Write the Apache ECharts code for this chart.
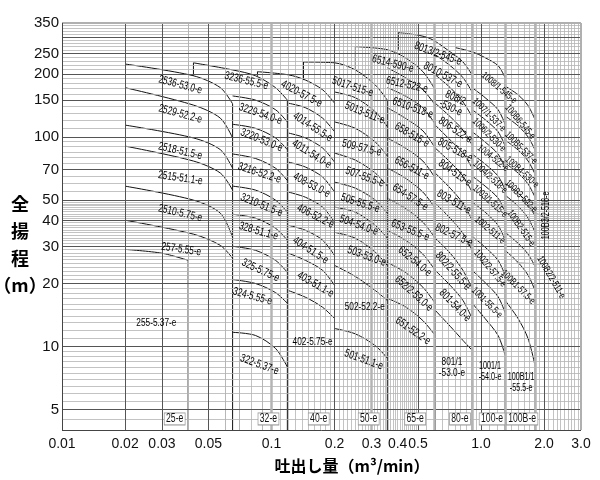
<!DOCTYPE html>
<html>
<head>
<meta charset="utf-8">
<script src="https://cdn.jsdelivr.net/npm/echarts@6/dist/echarts.min.js"></script>
<style>
  html, body { margin: 0; padding: 0; background: #fff; }
  #chart { width: 600px; height: 480px; }
</style>
</head>
<body>
<div id="chart"></div>
<script>
// 目盛り
var xTicks = [0.01, 0.02, 0.03, 0.05, 0.1, 0.2, 0.3, 0.4, 0.5, 1.0, 2.0, 3.0];
var xTickText = ['0.01', '0.02', '0.03', '0.05', '0.1', '0.2', '0.3', '0.4', '0.5', '1.0', '2.0', '3.0'];
var yTicks = [5, 10, 20, 30, 40, 50, 70, 100, 150, 200, 250, 300, 350];

// 方眼 (from, to, step)
var gridStepsX = [[0.01, 0.02, 0.001], [0.02, 0.05, 0.001], [0.05, 0.1, 0.005], [0.1, 0.2, 0.01],
  [0.2, 0.5, 0.01], [0.5, 1, 0.05], [1, 2, 0.1], [2, 3, 0.1]];
var gridStepsY = [[4, 5, 0.5], [5, 10, 0.5], [10, 20, 1], [20, 50, 1], [50, 100, 5], [100, 200, 10], [200, 350, 10]];
var majorX = [0.02, 0.03, 0.05, 0.2, 0.5, 1, 2];
var majorY = [5, 10, 20, 30, 40, 50, 70, 100, 150, 200, 250, 300];
var greyX = [0.1, 0.3, 0.6045, 0.907, 1.3033, 1.811];

// 25-e
var q25 = [0.02, 0.0424, 0.057, 0.0652];
var h25 = [
  [223, 196, 172, 144],
  [172, 142, 123, 99],
  [114, 99, 87, 71],
  [90.5, 76.8, 67.3, 55.8],
  [58.3, 50.0, 43.3, 33.2],
  [40.1, 34.4, 30.4, 26.4]
];
var q255 = [0.02, 0.03, 0.04];
var h255 = [29.1, 27.9, 25.8];

// 32-e
var top32Q = [0.0424, 0.0652, 0.0839, 0.1045, 0.119];
var top32H = [226, 209, 196, 172, 150];
var q32 = [0.0652, 0.0839, 0.1045, 0.119];
var h32 = [
  [157, 150, 135, 118],
  [115, 110, 99, 87],
  [83, 79, 71, 62],
  [58.3, 55.8, 50, 43.8],
  [42.8, 41, 36.7, 32.2],
  [30.1, 28.8, 25.8, 22.6],
  [20.9, 20, 18.1, 16.1],
  [11.7, 11.3, 9.8, 8.0]
];

// 40-e
var top40Q = [0.0857, 0.1205, 0.1452, 0.1754, 0.2];
var top40H = [205, 198, 187, 168, 145];
var q40 = [0.1205, 0.1452, 0.1754, 0.2];
var h40 = [
  [145, 138, 123, 106],
  [104.5, 99, 88.6, 75.9],
  [75.9, 71.9, 64.4, 54.6],
  [54.6, 51.6, 46.3, 39.2],
  [37.9, 35.9, 32.2, 27.2],
  [27.9, 25.8, 23.1, 19.6],
  [18.5, 17.2, 15.4, 13.6]
];

// 50-e
var top50Q = [0.1421, 0.2, 0.2513, 0.313, 0.357];
var top50H = [228, 226, 209, 177, 150];
var q50 = [0.2, 0.2513, 0.313, 0.357];
var h50 = [
  [164, 154, 132, 112],
  [118, 110, 94.6, 81.1],
  [83.8, 77.6, 67.3, 58.3],
  [60.9, 57, 50, 43.3],
  [46.3, 43.8, 37.9, 32.9],
  [35.1, 32.9, 28.2, 24.4],
  [24.4, 21.6, 18.5, 16.6],
  [12.2, 11.5, 10.1, 8.8]
];

// 65-e
var top65Q = [0.2513, 0.357, 0.435, 0.528, 0.6045];
var top65H = [270, 261, 239, 205, 168];
var q65 = [0.357, 0.435, 0.528, 0.6045];
var h65 = [
  [214, 192, 168, 142],
  [172, 157, 138, 115],
  [138, 123, 107, 88.6],
  [98.9, 88.6, 76.8, 63.7],
  [71.1, 63.7, 54.6, 45.7],
  [51.1, 45.7, 39.2, 32.9],
  [35.9, 32.2, 27.6, 23.1],
  [25.2, 22.6, 19.2, 16.1],
  [17.0, 15.5, 13.3, 11.3]
];

// 80-e
var top80Q = [0.4029, 0.5577, 0.7127, 0.82, 0.907];
var top80H = [315, 298, 255, 228, 198];
var q80 = [0.6045, 0.7127, 0.82, 0.907];
var h80 = [
  [247, 219, 192, 164],
  [198, 172, 147, 125],
  [145, 125, 108, 91.5],
  [114, 96.7, 83.8, 71.1],
  [88.6, 75.9, 65.1, 54.6],
  [67.3, 57, 48.3, 40.1],
  [48.3, 41, 34.7, 28.8],
  [32.9, 27.9, 23.1, 18.9],
  [23.1, 19.6, 16.6, 13.6],
  [14.9, 12.5, 10.7, 9.6]
];

// 100-e
var top100Q = [0.753, 0.907, 1.0465, 1.206, 1.3033];
var top100H = [267, 255, 239, 219, 192];
var q100 = [0.907, 1.0465, 1.206, 1.3033];
var h100 = [
  [172, 154, 135, 115],
  [135, 121, 106, 90.5],
  [106, 94.6, 82.9, 71.1],
  [82.9, 74.3, 65.1, 55.8],
  [65.1, 58.3, 51.1, 43.8],
  [48.9, 43.8, 37.9, 32.2],
  [33.6, 29.8, 25.8, 21.9],
  [23.1, 20.2, 17.3, 14.5],
  [16.1, 13.6, 11.3, 9.1]
];

// 100B-e
var q100B = [1.3033, 1.503, 1.678, 1.811];
var h100B = [
  [175, 159, 141, 121],
  [126, 113, 100, 86.7],
  [96.7, 86.7, 76.8, 66.5],
  [75.1, 67.3, 59.6, 51.6],
  [60.3, 54.0, 47.8, 41.9],
  [52.8, 46.8, 41.0, 35.1],
  [35.1, 31.1, 27.6, 24.1],
  [28.8, 25.2, 21.9, 18.5],
  [16.6, 13.6, 10.9, 8.1]
];

// 区切り線 [Q, H1, H2]
var edgeLines = [
  [0.04, 25.8, 4], [0.0652, 144, 4], [0.119, 150, 4], [0.357, 150, 4],
  [0.6045, 168, 4], [0.907, 198, 4], [1.3033, 192, 4], [1.811, 121, 4],
  [0.0424, 196, 226], [0.0857, 196, 205], [0.1421, 187, 228], [0.2513, 209, 270], [0.4029, 261, 315]
];
// 引出し線
var leaders = [
  [[1.715, 44.7], [1.936, 42.3]],
  [[1.48, 25.2], [1.94, 24.7]]
];

// 機種名 [text, Q, H, angle]
var pumpLabels = [
  ['2536-53.0-e', 0.0367, 177.3, -15], ['2529-52.2-e', 0.0367, 128.8, -15],
  ['2518-51.5-e', 0.0367, 85.7, -13], ['2515-51.1-e', 0.0367, 63.7, -8],
  ['2510-5.75-e', 0.0367, 43.3, -13], ['257-5.55-e', 0.0371, 29.1, -8],
  ['255-5.37-e', 0.0282, 13.0, 0],
  ['3236-55.5-e', 0.0759, 185.3, -14], ['3229-54.0-e', 0.0886, 128.8, -19],
  ['3220-53.0-e', 0.0896, 96.7, -22], ['3216-52.2-e', 0.0876, 67.3, -18],
  ['3210-51.5-e', 0.0896, 47.3, -22], ['328-51.1-e', 0.0867, 35.5, -16],
  ['325-5.75-e', 0.0886, 23.1, -25], ['324-5.55-e', 0.0811, 17.35, -15],
  ['322-5.37-e', 0.0876, 8.2, -20],
  ['4020-57.5-e', 0.1391, 160.6, -28], ['4014-55.5-e', 0.1571, 111.6, -33],
  ['4011-54.0-e', 0.1553, 82.9, -32], ['408-53.0-e', 0.1553, 58.9, -28],
  ['406-52.2-e', 0.1621, 41.9, -27], ['404-51.5-e', 0.1534, 28.8, -33],
  ['403-51.1-e', 0.1621, 19.8, -30], ['402-5.75-e', 0.1571, 10.56, 0],
  ['5017-515-e', 0.2441, 173.5, -18], ['5013-511-e', 0.2786, 130.3, -22],
  ['509-57.5-e', 0.2695, 88.6, -14], ['507-55.5-e', 0.2786, 64.4, -20],
  ['505-55.5-e', 0.2655, 48.3, -18], ['504-54.0-e', 0.2608, 37.9, -20],
  ['503-53.0-e', 0.2848, 26.96, -20], ['502-52.2-e', 0.2786, 15.5, 0],
  ['501-51.1-e', 0.2755, 8.66, -20],
  ['6514-590-e', 0.3793, 223.5, -14], ['6512-522-e', 0.4425, 177.3, -12],
  ['6510-518-e', 0.4727, 137.6, -20], ['658-515-e', 0.4676, 102.2, -30],
  ['656-511-e', 0.4676, 71.1, -28], ['654-57.5-e', 0.4595, 51.6, -33],
  ['653-55.5-e', 0.4595, 35.9, -22], ['652-54.0-e', 0.4831, 25.5, -40],
  ['652/2-53.0-e', 0.4778, 17.9, -42], ['651-52.2-e', 0.4727, 11.9, -35],
  ['8013/2-545-e', 0.6226, 249.6, -20], ['8010-537-e', 0.6578, 198.0, -28],
  ['808/2\n-530-e', 0.7344, 145.4, -25], ['806-522-e', 0.7529, 108.0, -33],
  ['805-518-e', 0.7529, 86.7, -28], ['804-515-e', 0.7508, 67.3, -35],
  ['803-511-e', 0.7426, 48.9, -30], ['802-57.5-e', 0.7426, 34.0, -25],
  ['802/2-55.5-e', 0.7344, 22.9, -48], ['801-54.0-e', 0.7508, 15.7, -46],
  ['801/1\n-53.0-e', 0.7263, 7.93, 0],
  ['1008/1-545-e', 1.219, 171.6, -40], ['1007/1-537-e', 1.0921, 127.5, -45],
  ['1006/2-530-e', 1.0921, 102.2, -45], ['1004-522-e', 1.1414, 79.3, -38],
  ['1004/2-518-e', 1.1055, 64.4, -43], ['1003/1-515-e', 1.104, 49.4, -42],
  ['1002-511-e', 1.104, 35.9, -40], ['1002/2-57.5-e', 1.104, 23.6, -50],
  ['1001-55.5-e', 1.0683, 16.2, -45], ['1001/1\n-54.0-e', 1.104, 7.59, 0],
  ['100B6-545-e', 1.537, 118.0, -50], ['100B5-537-e', 1.554, 88.6, -45],
  ['100B4-530-e', 1.571, 68.0, -42], ['100B3-522-e', 1.554, 52.2, -45],
  ['100B2-515-e', 1.554, 36.7, -55], ['100B1-57.5-e', 1.503, 19.2, -45],
  ['100B1/1\n-55.5-e', 1.554, 6.73, 0],
  ['100B3/2-518-e', 2.046, 42.3, 90], ['100B2/2-511-e', 2.162, 21.4, -60]
];

// 口径の枠
var boxText = ['25-e', '32-e', '40-e', '50-e', '65-e', '80-e', '100-e', '100B-e'];
var boxQ = [0.0345, 0.0967, 0.168, 0.291, 0.485, 0.793, 1.129, 1.571];
var boxH = 4.52;

var FONT = '"Liberation Sans",sans-serif';

function steps(list) {
  var out = [];
  list.forEach(function (s) {
    for (var v = s[0]; v < s[1] - s[2] / 2; v += s[2]) out.push(+v.toFixed(5));
  });
  return out;
}

var series = [];

function curve(q, h, color, width) {
  series.push({
    type: 'line', data: q.map(function (v, i) { return [v, h[i]]; }),
    smooth: 0.3, symbol: 'none', silent: true, animation: false, z: 3,
    lineStyle: { color: color || '#111', width: width || 1 }
  });
}

// 方眼
var minorStyle = { color: '#b4b4b4', width: 0.8, type: 'solid' };
var gridData = [];
steps(gridStepsX).forEach(function (v) { gridData.push({ xAxis: v, lineStyle: minorStyle }); });
steps(gridStepsY).forEach(function (v) { gridData.push({ yAxis: v, lineStyle: minorStyle }); });
majorX.forEach(function (v) { gridData.push({ xAxis: v, lineStyle: { color: '#555', width: 1, type: 'solid' } }); });
majorY.forEach(function (v) { gridData.push({ yAxis: v, lineStyle: { color: '#555', width: 1, type: 'solid' } }); });
greyX.forEach(function (v) { gridData.push({ xAxis: v, lineStyle: { color: '#b4b4b4', width: 2.5, type: 'solid' } }); });
gridData.push({ yAxis: 350, lineStyle: { color: '#b0b0b0', width: 2, type: 'solid' } });
gridData.push({ xAxis: 3, lineStyle: { color: '#b0b0b0', width: 2, type: 'solid' } });
gridData.push({ xAxis: 0.01, lineStyle: { color: '#444', width: 1, type: 'solid' } });
gridData.push({ yAxis: 4, lineStyle: { color: '#444', width: 1, type: 'solid' } });

series.push({
  type: 'line', data: [], silent: true, animation: false, z: 1,
  markLine: { symbol: ['none', 'none'], silent: true, animation: false, label: { show: false },
    lineStyle: { type: 'solid' }, data: gridData }
});

// 性能曲線
h25.forEach(function (h) { curve(q25, h); });
curve(q255, h255);
curve(top32Q, top32H); h32.forEach(function (h) { curve(q32, h); });
curve(top40Q, top40H); h40.forEach(function (h) { curve(q40, h); });
curve(top50Q, top50H); h50.forEach(function (h) { curve(q50, h); });
curve(top65Q, top65H); h65.forEach(function (h) { curve(q65, h); });
curve(top80Q, top80H); h80.forEach(function (h) { curve(q80, h); });
curve(top100Q, top100H); h100.forEach(function (h) { curve(q100, h); });
h100B.forEach(function (h) { curve(q100B, h); });
edgeLines.forEach(function (e) {
  series.push({
    type: 'line', data: [[e[0], e[1]], [e[0], e[2]]], symbol: 'none', silent: true, animation: false, z: 3,
    lineStyle: { color: '#111', width: 1 }
  });
});
leaders.forEach(function (l) { curve([l[0][0], l[1][0]], [l[0][1], l[1][1]], '#999', 0.8); });

// 機種名 (細い字体に見せるため横方向を縮める)
series.push({
  type: 'custom', silent: true, animation: false, z: 5, clip: false,
  data: pumpLabels.map(function (p) { return [p[1], p[2]]; }),
  encode: { x: 0, y: 1 },
  renderItem: function (params, api) {
    var p = pumpLabels[params.dataIndex];
    var pt = api.coord([p[1], p[2]]);
    var size = p[1] > 0.9 ? 10 : 11.5;
    return {
      type: 'text', x: pt[0], y: pt[1], rotation: p[3] * Math.PI / 180, scaleX: 0.72,
      style: { text: p[0], fill: '#000', font: size + 'px ' + FONT, lineHeight: 11,
        align: 'center', verticalAlign: 'middle' }
    };
  }
});

series.push({
  type: 'custom', silent: true, animation: false, z: 6, clip: false,
  data: boxQ.map(function (q) { return [q, boxH]; }),
  encode: { x: 0, y: 1 },
  renderItem: function (params, api) {
    var pt = api.coord([boxQ[params.dataIndex], boxH]);
    return {
      type: 'text', x: pt[0], y: pt[1], scaleX: 0.72,
      style: { text: boxText[params.dataIndex], fill: '#111', font: '12px ' + FONT,
        align: 'center', verticalAlign: 'middle', backgroundColor: '#fff',
        borderColor: '#999', borderWidth: 1, padding: [0, 2, -1, 2] }
    };
  }
});

var myChart = echarts.init(document.getElementById('chart'));
var option = {
  backgroundColor: '#fff',
  animation: false,
  grid: { left: 62, right: 19, top: 23, bottom: 50 },
  xAxis: {
    type: 'log', logBase: 10, min: 0.01, max: 3,
    axisLine: { show: false }, axisTick: { show: false }, splitLine: { show: false },
    axisLabel: {
      customValues: xTicks, margin: 7, fontSize: 14, color: '#111', fontFamily: FONT,
      showMinLabel: true, showMaxLabel: true,
      formatter: function (v) {
        for (var i = 0; i < xTicks.length; i++) if (Math.abs(xTicks[i] - v) < 1e-6) return xTickText[i];
        return '';
      }
    }
  },
  yAxis: {
    type: 'log', logBase: 10, min: 4, max: 350,
    axisLine: { show: false }, axisTick: { show: false }, splitLine: { show: false },
    axisLabel: {
      customValues: yTicks, margin: 3, fontSize: 15, color: '#111', fontFamily: FONT,
      showMinLabel: true, showMaxLabel: true,
      formatter: function (v) { return String(Math.round(v)); }
    }
  },
  graphic: [
    {
      type: 'text', x: 20, y: 245, silent: true,
      style: { text: '全\n揚\n程\n（m）', font: 'bold 18px "Noto Sans CJK JP"', lineHeight: 27,
        fill: '#000', align: 'center', verticalAlign: 'middle' }
    },
    {
      type: 'text', x: 352, y: 466, silent: true,
      style: { text: '吐出し量（m³/min）', font: 'bold 16px "Noto Sans CJK JP"',
        fill: '#000', align: 'center', verticalAlign: 'middle' }
    }
  ],
  series: series
};
myChart.setOption(option);
</script>
</body>
</html>
